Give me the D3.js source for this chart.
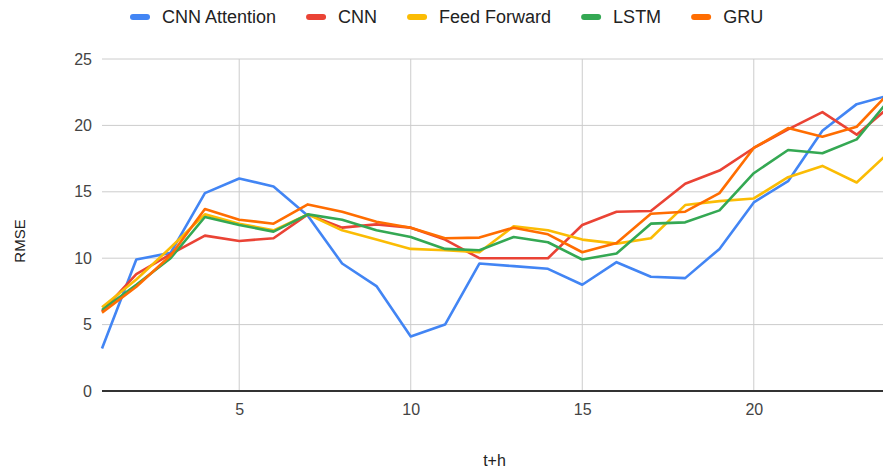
<!DOCTYPE html>
<html>
<head>
<meta charset="utf-8">
<script src="https://cdn.jsdelivr.net/npm/d3@7"></script>
<style>
  body { margin: 0; background: #fff; }
  svg { display: block; font-family: "Liberation Sans", Arial, sans-serif; }
</style>
</head>
<body>
<svg id="chart"></svg>
<script>
// data
const hours = d3.range(1, 25);
const seriesNames = ["CNN Attention", "CNN", "Feed Forward", "LSTM", "GRU"];
const seriesColors = ["#4285f4", "#ea4335", "#fbbc04", "#34a853", "#ff6d01"];

const cnnAttention = [3.2, 9.9, 10.4, 14.9, 16.0, 15.4, 13.2, 9.6, 7.9, 4.1, 5.0, 9.6, 9.4, 9.2, 8.0, 9.7, 8.6, 8.5, 10.7, 14.2, 15.8, 19.6, 21.6, 22.3];
const cnn = [6.0, 8.8, 10.3, 11.7, 11.3, 11.5, 13.3, 12.3, 12.55, 12.3, 11.4, 10.0, 10.0, 10.0, 12.5, 13.5, 13.55, 15.6, 16.6, 18.3, 19.7, 21.0, 19.3, 21.5];
const feedForward = [6.3, 8.4, 10.8, 13.3, 12.6, 12.1, 13.3, 12.1, 11.4, 10.7, 10.6, 10.45, 12.4, 12.1, 11.4, 11.1, 11.5, 14.0, 14.3, 14.5, 16.1, 16.95, 15.7, 18.1];
const lstm = [6.1, 8.0, 10.0, 13.1, 12.5, 12.0, 13.3, 12.9, 12.1, 11.6, 10.7, 10.6, 11.6, 11.2, 9.9, 10.35, 12.6, 12.7, 13.6, 16.4, 18.15, 17.9, 18.95, 22.1];
const gru = [5.9, 7.85, 10.2, 13.7, 12.9, 12.6, 14.05, 13.5, 12.75, 12.3, 11.5, 11.55, 12.3, 11.8, 10.45, 11.15, 13.35, 13.5, 14.9, 18.3, 19.8, 19.15, 19.9, 22.6];

const xTicks = [5, 10, 15, 20];
const yTicks = [0, 5, 10, 15, 20, 25];

const width = 883;
const height = 473;
// the plot runs a little past the right edge, as in the reference
const margin = { top: 59, right: -8, bottom: 82, left: 102 };

const svg = d3.select("#chart").attr("width", width).attr("height", height);

const x = d3.scaleLinear()
  .domain([1, 24])
  .range([margin.left, width - margin.right]);

const y = d3.scaleLinear()
  .domain([0, 25])
  .range([height - margin.bottom, margin.top]);

// gridlines
svg.append("g")
  .selectAll("line.h")
  .data(yTicks.filter(d => d > 0))
  .join("line")
  .attr("x1", margin.left).attr("x2", width)
  .attr("y1", d => y(d)).attr("y2", d => y(d))
  .attr("stroke", "#cccccc").attr("stroke-width", 1);

svg.append("g")
  .selectAll("line.v")
  .data(xTicks)
  .join("line")
  .attr("x1", d => x(d)).attr("x2", d => x(d))
  .attr("y1", y(25)).attr("y2", y(0))
  .attr("stroke", "#cccccc").attr("stroke-width", 1);

// axes (labels only, gridlines drawn above)
const yAxis = svg.append("g")
  .attr("transform", `translate(${margin.left - 10},0)`)
  .call(d3.axisLeft(y).tickValues(yTicks).tickSize(0).tickPadding(0));
yAxis.select(".domain").remove();
yAxis.selectAll("text")
  .attr("font-family", "Liberation Sans, Arial, sans-serif")
  .attr("font-size", "16px")
  .attr("fill", "#444");

const xAxis = svg.append("g")
  .attr("transform", `translate(0,${y(0) + 13})`)
  .call(d3.axisBottom(x).tickValues(xTicks).tickSize(0).tickPadding(0));
xAxis.select(".domain").remove();
xAxis.selectAll("text")
  .attr("font-family", "Liberation Sans, Arial, sans-serif")
  .attr("font-size", "16px")
  .attr("fill", "#444");

// baseline
svg.append("line")
  .attr("x1", margin.left).attr("x2", width)
  .attr("y1", y(0)).attr("y2", y(0))
  .attr("stroke", "#333").attr("stroke-width", 2);

// series lines
const allSeries = [cnnAttention, cnn, feedForward, lstm, gru];
const line = d3.line()
  .x((d, i) => x(hours[i]))
  .y(d => y(d));

svg.append("g")
  .selectAll("path")
  .data(allSeries)
  .join("path")
  .attr("d", line)
  .attr("fill", "none")
  .attr("stroke", (d, i) => seriesColors[i])
  .attr("stroke-width", 2.6)
  .attr("stroke-linejoin", "round");

// axis titles
svg.append("text")
  .attr("x", (margin.left + width - margin.right) / 2 - 2)
  .attr("y", 466)
  .attr("text-anchor", "middle")
  .attr("font-size", "16px")
  .attr("fill", "#222")
  .text("t+h");

svg.append("text")
  .attr("transform", `translate(25,${(y(0) + y(25)) / 2 + 16}) rotate(-90)`)
  .attr("text-anchor", "middle")
  .attr("font-size", "15px")
  .attr("fill", "#222")
  .text("RMSE");

// legend
const legend = svg.append("g").attr("transform", "translate(130,17)");
let lx = 0;
seriesNames.forEach((name, i) => {
  const item = legend.append("g").attr("transform", `translate(${lx},0)`);
  item.append("rect")
    .attr("x", 0).attr("y", -3)
    .attr("width", 20).attr("height", 6)
    .attr("rx", 3)
    .attr("fill", seriesColors[i]);
  const t = item.append("text")
    .attr("x", 32).attr("y", 0)
    .attr("dy", "0.36em")
    .attr("font-size", "18px")
    .attr("fill", "#222")
    .text(name);
  lx += 32 + t.node().getComputedTextLength() + 30;
});
</script>
</body>
</html>
